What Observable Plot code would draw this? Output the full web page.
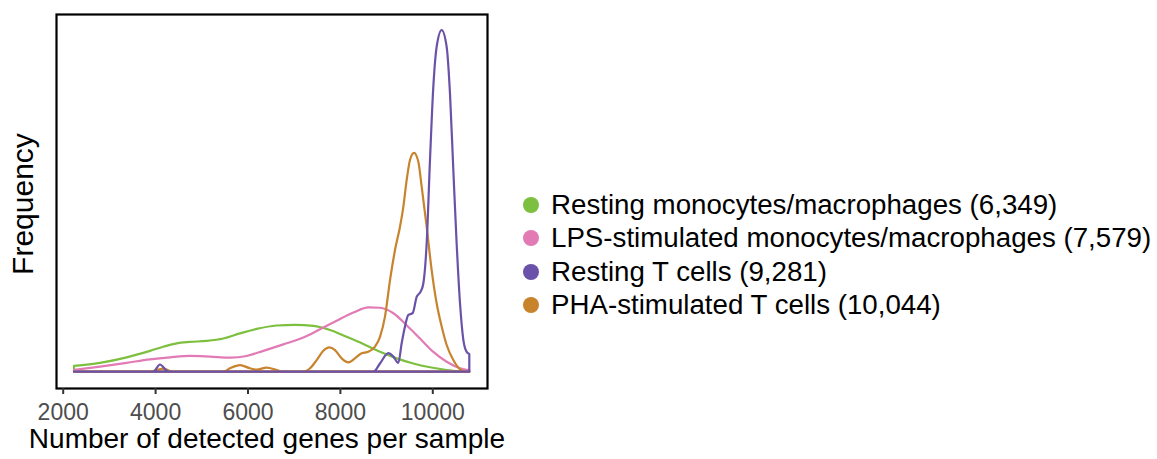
<!DOCTYPE html>
<html>
<head>
<meta charset="utf-8">
<script src="https://cdn.jsdelivr.net/npm/d3@7"></script>
<script src="https://cdn.jsdelivr.net/npm/@observablehq/plot@0.6"></script>
<style>
  html, body { margin: 0; padding: 0; background: #fff; }
  body { width: 1157px; height: 459px; position: relative; font-family: "Liberation Sans", Arial, Helvetica, sans-serif; }
  #chart { position: absolute; left: 0; top: 0; }
  #ylabel { position: absolute; left: 23px; top: 204px; transform: translate(-50%, -50%) rotate(-90deg); font-size: 30px; line-height: 1; color: #000; white-space: nowrap; }
  #legend { position: absolute; left: 523px; top: 188px; }
  .item { display: flex; align-items: center; height: 33.5px; font-size: 27.7px; color: #000; white-space: nowrap; }
  .dot { width: 16px; height: 16px; border-radius: 50%; margin-right: 12px; }
</style>
</head>
<body>
<div id="chart"></div>
<div id="ylabel"></div>
<div id="legend"></div>
<script>
const seriesNames = [
  "Resting monocytes/macrophages (6,349)",
  "LPS-stimulated monocytes/macrophages (7,579)",
  "Resting T cells (9,281)",
  "PHA-stimulated T cells (10,044)"
];
const seriesColors = ["#7dbf3f", "#e27ab5", "#6a52a8", "#c8832d"];
const xLabel = "Number of detected genes per sample";
const yLabel = "Frequency";

// Resting monocytes/macrophages
const greenX = [2245, 2807, 3385, 3890, 4178, 4467, 4755, 5116, 5477, 5838, 6198, 6631, 7028, 7425, 7786, 8146, 8507, 8868, 9229, 9589, 9950, 10311, 10672, 10801];
const greenY = [0.017, 0.026, 0.042, 0.061, 0.073, 0.083, 0.087, 0.090, 0.097, 0.112, 0.125, 0.135, 0.137, 0.134, 0.122, 0.102, 0.081, 0.058, 0.039, 0.024, 0.013, 0.005, 0.001, 0.0];

// LPS-stimulated monocytes/macrophages
const pinkX = [2245, 2807, 3385, 3890, 4323, 4755, 5188, 5621, 5982, 6343, 6776, 7209, 7569, 7930, 8291, 8615, 8868, 9157, 9445, 9734, 10022, 10311, 10600, 10801];
const pinkY = [0.005, 0.015, 0.026, 0.036, 0.042, 0.046, 0.044, 0.041, 0.046, 0.061, 0.080, 0.100, 0.124, 0.149, 0.173, 0.188, 0.187, 0.171, 0.136, 0.097, 0.058, 0.029, 0.010, 0.004];

// Resting T cells
const purpleX = [2245, 3962, 4106, 4250, 4323, 8724, 8868, 9048, 9157, 9265, 9337, 9409, 9481, 9575, 9662, 9748, 9806, 9878, 9950, 10022, 10094, 10203, 10311, 10383, 10455, 10527, 10600, 10672, 10744, 10801];
const purpleY = [0, 0, 0.021, 0.003, 0, 0, 0.024, 0.054, 0.044, 0.026, 0.083, 0.132, 0.166, 0.171, 0.219, 0.234, 0.258, 0.375, 0.619, 0.833, 0.950, 0.999, 0.950, 0.813, 0.590, 0.375, 0.200, 0.093, 0.058, 0.052];

// PHA-stimulated T cells
const orangeX = [2245, 3890, 4034, 4178, 4323, 4467, 5477, 5621, 5838, 6054, 6198, 6415, 6631, 6776, 7209, 7353, 7497, 7641, 7771, 7894, 8038, 8183, 8327, 8471, 8615, 8760, 8868, 8976, 9085, 9193, 9301, 9373, 9445, 9517, 9604, 9698, 9770, 9878, 9986, 10094, 10203, 10311, 10455, 10600, 10744, 10801];
const orangeY = [0, 0, 0.005, 0.009, 0.002, 0, 0, 0.010, 0.019, 0.010, 0.006, 0.012, 0.005, 0, 0, 0.010, 0.034, 0.061, 0.071, 0.063, 0.039, 0.027, 0.039, 0.054, 0.058, 0.073, 0.102, 0.161, 0.268, 0.356, 0.424, 0.482, 0.560, 0.619, 0.640, 0.614, 0.541, 0.424, 0.297, 0.200, 0.132, 0.078, 0.034, 0.007, 0, 0];

const xTicks = [2000, 4000, 6000, 8000, 10000];

function rows(xs, ys) { return xs.map((x, i) => ({x, y: ys[i]})); }
const seriesData = [rows(greenX, greenY), rows(pinkX, pinkY), rows(orangeX, orangeY), rows(purpleX, purpleY)];
const drawColors = [seriesColors[0], seriesColors[1], seriesColors[3], seriesColors[2]];

const chart = Plot.plot({
  width: 500,
  height: 459,
  marginLeft: 56,
  marginRight: 13,
  marginTop: 14,
  marginBottom: 71,
  style: { fontFamily: "Liberation Sans, Arial, Helvetica, sans-serif", background: "#fff", overflow: "visible" },
  x: { domain: [1855, 11184] },
  y: { domain: [-0.0477, 1.046] },
  marks: [
    ...seriesData.map((d, i) => Plot.areaY(d, {
      x: "x", y: "y", fill: "none", stroke: drawColors[i], strokeWidth: 2.2,
      curve: "monotone-x", strokeLinejoin: "round"
    })),
    Plot.frame({ stroke: "#000", strokeWidth: 2.2 }),
    Plot.axisX({ ticks: xTicks, tickSize: 6, tickPadding: 9, tickFormat: d => String(d), fontSize: 23, color: "#4d4d4d", stroke: "#333", strokeWidth: 2, label: null }),
    Plot.axisY({ ticks: [], label: null }),
    Plot.text([xLabel], { frameAnchor: "bottom", lineAnchor: "middle", dx: -5, dy: 51, fontSize: 28, fill: "#000" })
  ]
});
document.getElementById("chart").appendChild(chart);
document.getElementById("ylabel").textContent = yLabel;

const legend = document.getElementById("legend");
seriesNames.forEach((name, i) => {
  const item = document.createElement("div");
  item.className = "item";
  const dot = document.createElement("span");
  dot.className = "dot";
  dot.style.background = seriesColors[i];
  const label = document.createElement("span");
  label.textContent = name;
  item.appendChild(dot);
  item.appendChild(label);
  legend.appendChild(item);
});
</script>
</body>
</html>
